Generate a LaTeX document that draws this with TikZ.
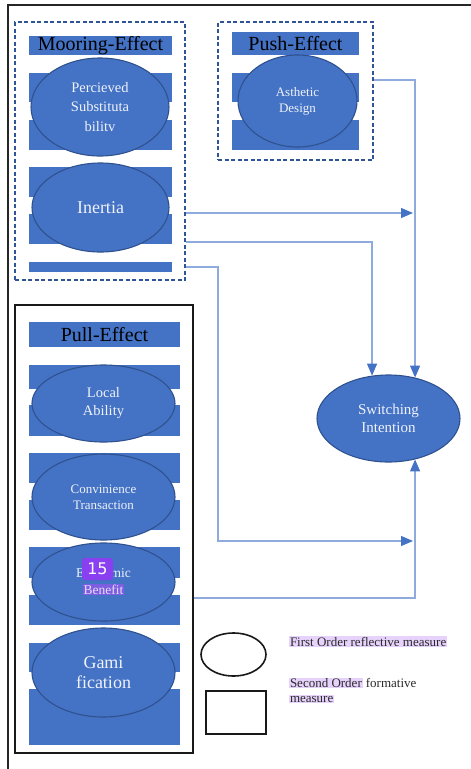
\documentclass[tikz,border=0pt]{standalone}
\usepackage{fontspec}
\setmainfont{Liberation Serif}
\newfontfamily\tnr{Liberation Serif}
\newfontfamily\badgefont{DejaVu Sans}
\usetikzlibrary{arrows.meta,shapes.geometric}
\definecolor{fillblue}{HTML}{4472C4}
\definecolor{edgeblue}{HTML}{2F528F}
\definecolor{dashblue}{HTML}{2F5597}
\definecolor{linkblue}{HTML}{8FAADC}
\definecolor{hlpurple}{HTML}{E6D2FB}
\definecolor{badgepurple}{HTML}{8A3FF0}
\definecolor{benefithl}{HTML}{7E5EE0}
\definecolor{benefittext}{HTML}{E4DCFA}
\definecolor{elltext}{HTML}{EEF2FA}
\definecolor{legtext}{HTML}{2A2A2A}
\setlength{\fboxsep}{0.8pt}
\begin{document}
\begin{tikzpicture}[x=1pt,y=-1pt,font=\tnr,
  bar/.style={fill=fillblue,draw=none},
  header/.style={fill=fillblue,draw=none,inner sep=0pt,text=black,
     font=\tnr\fontsize{20}{22}\selectfont},
  ell/.style={ellipse,fill=fillblue,draw=edgeblue,line width=1.1pt,inner sep=0pt,
     align=center,text=elltext},
  dashbox/.style={draw=dashblue,line width=1.6pt,dash pattern=on 4pt off 2.5pt,inner sep=0pt},
  solidbox/.style={draw=black!90,line width=1.6pt,inner sep=0pt},
  link/.style={draw=linkblue,line width=1.2pt},
  tip/.style={-{Triangle[length=12pt,width=10pt,color=fillblue]}},
  legtxt/.style={inner sep=0pt,text=legtext,align=left,font=\tnr\fontsize{13}{14.5}\selectfont}
]
\useasboundingbox (0,0) rectangle (471,769);
\fill[white] (0,0) rectangle (471,769);
% outer frame
\draw[line width=1.5pt,black!85] (8,769) -- (8,5) -- (471,5);

% ---- Mooring-Effect group
\node[dashbox,minimum width=170pt,minimum height=258pt] (moor) at (100,151) {};
\node[header,minimum width=143pt,minimum height=19pt] (mhead) at (100.5,45.5) {Mooring-Effect};
\fill[bar] (29,73) rectangle (172,102);
\fill[bar] (29,120) rectangle (172,150);
\fill[bar] (29,167) rectangle (172,197);
\fill[bar] (29,214) rectangle (172,244);
\fill[bar] (29,262) rectangle (172,272);
\node[ell,minimum width=138pt,minimum height=98pt,font=\tnr\fontsize{14.5}{19.5}\selectfont] (ps) at (100,107) {Percieved\\Substituta\\bilitv};
\node[ell,minimum width=137pt,minimum height=89pt,font=\tnr\fontsize{18}{20}\selectfont] (inertia) at (100.5,207.5) {Inertia};

% ---- Push-Effect group
\node[dashbox,minimum width=155pt,minimum height=138pt] (push) at (295.5,91) {};
\node[header,minimum width=127pt,minimum height=23pt] (phead) at (295.5,43.5) {Push-Effect};
\fill[bar] (232,73) rectangle (359,102);
\fill[bar] (232,120) rectangle (359,150);
\node[ell,minimum width=119pt,minimum height=92pt,font=\tnr\fontsize{13}{16}\selectfont] (aes) at (297.5,101) {Asthetic\\Design};

% ---- Pull-Effect group
\node[solidbox,minimum width=178pt,minimum height=448pt] (pull) at (104,529) {};
\node[header,minimum width=151pt,minimum height=25pt] (ullhead) at (104.5,334.5) {Pull-Effect};
\fill[bar] (29,365) rectangle (180,389);
\fill[bar] (29,405) rectangle (180,436);
\fill[bar] (29,453) rectangle (180,483);
\fill[bar] (29,500) rectangle (180,530);
\fill[bar] (29,547) rectangle (180,578);
\fill[bar] (29,595) rectangle (180,625);
\fill[bar] (29,643) rectangle (180,672);
\fill[bar] (29,689) rectangle (180,745);
\node[ell,minimum width=143pt,minimum height=77pt,font=\tnr\fontsize{14.5}{18}\selectfont] (local) at (103.5,403.5) {Local\\Ability};
\node[ell,minimum width=143pt,minimum height=86pt,font=\tnr\fontsize{13}{16}\selectfont] (conv) at (103.5,497) {Convinience\\Transaction};
\node[ell,minimum width=143pt,minimum height=78pt,font=\tnr\fontsize{13.5}{17}\selectfont] (econ) at (103.5,582) {Economic\\\colorbox{benefithl}{\textcolor{benefittext}{Benefit}}};
\node[ell,minimum width=143pt,minimum height=89pt,font=\tnr\fontsize{18}{20}\selectfont] (gami) at (103.5,672.5) {Gami\\fication};
\node[fill=badgepurple,rounded corners=3pt,minimum width=31pt,minimum height=22pt,inner sep=0pt,
      text=white,font=\badgefont\fontsize{16}{16}\selectfont] (badge) at (97.5,569) {15};

% ---- Switching Intention
\node[ell,minimum width=143pt,minimum height=87pt,font=\tnr\fontsize{15}{18}\selectfont] (si) at (388.5,418.5) {Switching\\Intention};

% ---- connectors
\coordinate (r80) at (0,80);
\coordinate (r242) at (0,242);
\coordinate (r598) at (0,598);
\coordinate (j1) at (413,213);
\coordinate (j2) at (413,541);
\coordinate (t3) at (218,267);
\draw[link,tip] (push.east |- r80) -| (si.57);
\draw[link,tip] (moor.east |- j1) -- (j1);
\draw[link,tip] (moor.east |- r242) -| (si.111);
\draw[link,tip] (moor.east |- t3) -- (t3) |- (j2);
\draw[link,tip] (pull.east |- r598) -| (si.-57);

% ---- legend
\node[draw=black!90,line width=1.6pt,ellipse,minimum width=65pt,minimum height=43pt,inner sep=0pt] (leg1) at (233.5,654.5) {};
\node[draw=black!90,line width=1.8pt,minimum width=60pt,minimum height=43pt,inner sep=0pt] (leg2) at (236,712.5) {};
\node[legtxt,anchor=base west] (leg1txt) at (289,646) {\colorbox{hlpurple}{First Order reflective measure}};
\node[legtxt,anchor=base west] (leg2txt) at (289,702) {\colorbox{hlpurple}{Second Order} formative\\\colorbox{hlpurple}{measure}};
\end{tikzpicture}
\end{document}
